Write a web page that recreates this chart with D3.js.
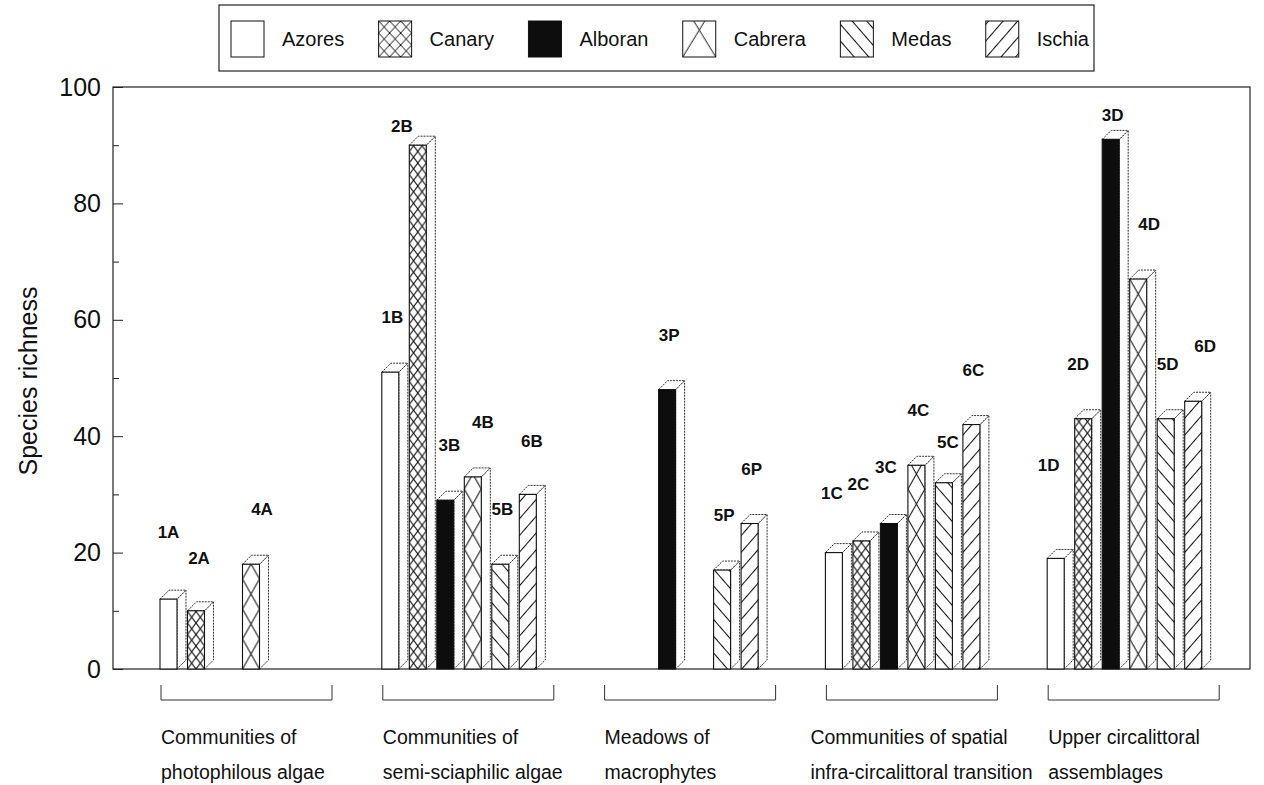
<!DOCTYPE html>
<html>
<head>
<meta charset="utf-8">
<script src="https://cdn.jsdelivr.net/npm/d3@7"></script>
<style>
  html, body { margin: 0; padding: 0; background: #fff; }
  svg { display: block; }
  text { font-family: "Liberation Sans", Arial, Helvetica, sans-serif; fill: #111; }
</style>
</head>
<body>
<svg id="chart" width="1264" height="785"></svg>
<script>
// ---- data ----
const islands = ["Azores", "Canary", "Alboran", "Cabrera", "Medas", "Ischia"];
const islandCodes = ["1", "2", "3", "4", "5", "6"];
const habitatCodes = ["A", "B", "P", "C", "D"];
const habitatLines = [
  ["Communities of", "photophilous algae"],
  ["Communities of", "semi-sciaphilic algae"],
  ["Meadows of", "macrophytes"],
  ["Communities of spatial", "infra-circalittoral transition"],
  ["Upper circalittoral", "assemblages"]
];
// species richness per island, one entry per habitat (null = not sampled)
const azores  = [12, 51, null, 20, 19];
const canary  = [10, 90, null, 22, 43];
const alboran = [null, 29, 48, 25, 91];
const cabrera = [18, 33, null, 35, 67];
const medas   = [null, 18, 17, 32, 43];
const ischia  = [null, 30, 25, 42, 46];
const yMajorTicks = [0, 20, 40, 60, 80, 100];
const yMinorTicks = [10, 30, 50, 70, 90];
const yTitle = "Species richness";

const seriesValues = [azores, canary, alboran, cabrera, medas, ischia];

// ---- layout ----
const svg = d3.select("#chart");
const FONT = '"Liberation Sans", Arial, Helvetica, sans-serif';
const frame = { left: 113, right: 1250, top: 87, bottom: 669 };
const depth = 9;

const y = d3.scaleLinear().domain([0, 100]).range([frame.bottom, frame.top]);

const groupStep = 221.8, bracketW = 171;
const gx = d3.scaleBand()
  .domain(habitatCodes)
  .range([161, 161 + groupStep * (5 - (groupStep - bracketW) / groupStep)])
  .paddingInner((groupStep - bracketW) / groupStep)
  .paddingOuter(0);

const bx = d3.scaleBand()
  .domain(islands)
  .range([0, 154.5])
  .paddingInner(0.382)
  .paddingOuter(0);
const bw = bx.bandwidth();

const defs = svg.append("defs");

// hatch patterns; each bar gets its own so the hatching lines up with its edges
function makePattern(id, island, x0, y0, w) {
  if (island === "Canary") {
    const p = defs.append("pattern").attr("id", id).attr("patternUnits", "userSpaceOnUse")
      .attr("x", x0).attr("y", y0).attr("width", w / 2).attr("height", 11.5);
    p.append("rect").attr("width", w / 2).attr("height", 11.5).attr("fill", "#fff");
    p.append("path").attr("d", `M0,0L${w / 2},11.5M${w / 2},0L0,11.5`)
      .attr("stroke", "#111").attr("stroke-width", 1.1).attr("fill", "none");
  } else if (island === "Cabrera") {
    const h = 30;
    const p = defs.append("pattern").attr("id", id).attr("patternUnits", "userSpaceOnUse")
      .attr("x", x0).attr("y", y0).attr("width", w).attr("height", h);
    p.append("rect").attr("width", w).attr("height", h).attr("fill", "#fff");
    p.append("path").attr("d", `M0,0L${w},${h}M${w},0L0,${h}`)
      .attr("stroke", "#111").attr("stroke-width", 1.1).attr("fill", "none");
  } else if (island === "Medas" || island === "Ischia") {
    const gap = 11;
    const ang = island === "Medas" ? 49 : -49;
    const p = defs.append("pattern").attr("id", id).attr("patternUnits", "userSpaceOnUse")
      .attr("width", 20).attr("height", gap)
      .attr("patternTransform", `translate(${x0},${y0}) rotate(${ang})`);
    p.append("rect").attr("width", 20).attr("height", gap).attr("fill", "#fff");
    p.append("line").attr("x1", 0).attr("x2", 20).attr("y1", 0.5).attr("y2", 0.5)
      .attr("stroke", "#111").attr("stroke-width", 1.1);
  }
}

function frontFill(island, id) {
  if (island === "Azores") return "#fff";
  if (island === "Alboran") return "#0d0d0d";
  return `url(#${id})`;
}

// ---- plot frame ----
svg.append("rect")
  .attr("x", frame.left).attr("y", frame.top)
  .attr("width", frame.right - frame.left).attr("height", frame.bottom - frame.top)
  .attr("fill", "none").attr("stroke", "#222").attr("stroke-width", 1.2);

// ---- y axis ----
const yAxis = svg.append("g").attr("transform", `translate(${frame.left},0)`)
  .call(d3.axisLeft(y).tickValues(yMajorTicks).tickSize(-10).tickPadding(12).tickFormat(d3.format("d")));
yAxis.select(".domain").remove();
yAxis.selectAll("line").attr("stroke", "#222");
yAxis.selectAll("text").style("font-family", FONT).style("font-size", "25px").attr("fill", "#111");

const yMinor = svg.append("g").attr("transform", `translate(${frame.left},0)`)
  .call(d3.axisLeft(y).tickValues(yMinorTicks).tickSize(-6).tickFormat(""));
yMinor.select(".domain").remove();
yMinor.selectAll("line").attr("stroke", "#222");

svg.append("text")
  .attr("transform", `translate(37,381) rotate(-90)`)
  .attr("text-anchor", "middle")
  .style("font-size", "25px")
  .text(yTitle);

// ---- bars ----
const bars = [];
habitatCodes.forEach((h, gi) => {
  islands.forEach((isl, si) => {
    const v = seriesValues[si][gi];
    if (v == null) return;
    bars.push({ habitat: h, island: isl, code: islandCodes[si] + h, value: v,
                x: gx(h) - 1 + bx(isl) });
  });
});

const barG = svg.append("g");
bars.forEach((b, i) => {
  const x0 = b.x, x1 = b.x + bw, yt = y(b.value), yb = y(0), d = depth;
  const id = "hatch" + i;
  makePattern(id, b.island, x0, yb, bw);
  const g = barG.append("g");
  // side face
  g.append("path")
    .attr("d", `M${x1},${yb}L${x1 + d},${yb - d}L${x1 + d},${yt - d}L${x1},${yt}Z`)
    .attr("fill", "#fff").attr("stroke", "#333").attr("stroke-width", 1)
    .attr("stroke-dasharray", "2,1");
  // top face
  g.append("path")
    .attr("d", `M${x0},${yt}L${x0 + d},${yt - d}L${x1 + d},${yt - d}L${x1},${yt}Z`)
    .attr("fill", "#fff").attr("stroke", "#333").attr("stroke-width", 1)
    .attr("stroke-dasharray", "2,1");
  // front face
  g.append("rect")
    .attr("x", x0).attr("y", yt).attr("width", bw).attr("height", yb - yt)
    .attr("fill", frontFill(b.island, id))
    .attr("stroke", "#111").attr("stroke-width", 1.1);
});

// bar codes, set above each bar; a few are nudged so they clear their neighbours
const labelNudge = {
  "1A": [-2, -12], "2A": [1, 2], "4A": [9, 0],
  "2B": [-18, 36], "3B": [2, 0], "4B": [8, 0], "6B": [2, 2],
  "5C": [2, 14], "1C": [-4, -5], "2C": [-5, -2], "3C": [-5, -2],
  "1D": [-9, -38], "2D": [-7, 0], "3D": [0, 31], "4D": [9, 0], "6D": [10, 0]
};
svg.append("g").selectAll("text").data(bars).join("text")
  .attr("x", b => b.x + bw / 2 + 2 + (labelNudge[b.code] || [0, 0])[0])
  .attr("y", b => y(b.value) - 49 + (labelNudge[b.code] || [0, 0])[1])
  .attr("text-anchor", "middle")
  .style("font-size", "17px").style("font-weight", "bold")
  .text(b => b.code);

// ---- group brackets and habitat names ----
const catG = svg.append("g");
habitatCodes.forEach((h, gi) => {
  const x0 = gx(h), x1 = x0 + gx.bandwidth();
  catG.append("path")
    .attr("d", `M${x0},685V700H${x1}V685`)
    .attr("fill", "none").attr("stroke", "#333").attr("stroke-width", 1);
  const dx = gi === 3 ? -16 : 0;
  const t = catG.append("text").attr("x", x0 + dx).attr("y", 744)
    .style("font-size", "19.5px");
  habitatLines[gi].forEach((line, li) => {
    t.append("tspan").attr("x", x0 + dx).attr("y", 744 + li * 35).text(line);
  });
});

// ---- legend ----
const legendBox = { x: 219, y: 5, w: 875, h: 66 };
svg.append("rect")
  .attr("x", legendBox.x).attr("y", legendBox.y)
  .attr("width", legendBox.w).attr("height", legendBox.h)
  .attr("fill", "#fff").attr("stroke", "#222").attr("stroke-width", 1.2);

const legG = svg.append("g");
const swW = 33, swH = 36, swGap = 18;
const legTexts = islands.map(isl => legG.append("text")
  .attr("y", 46).style("font-size", "20px").text(isl));
const widths = legTexts.map(t => t.node().getComputedTextLength());
const startX = 231, endX = 1089;
const used = d3.sum(widths) + islands.length * (swW + swGap);
const itemGap = (endX - startX - used) / (islands.length - 1);
let cx = startX;
islands.forEach((isl, i) => {
  const id = "legend" + i;
  if (isl === "Canary") {
    const p = defs.append("pattern").attr("id", id).attr("patternUnits", "userSpaceOnUse")
      .attr("x", cx).attr("y", 21).attr("width", 11).attr("height", 12);
    p.append("rect").attr("width", 11).attr("height", 12).attr("fill", "#fff");
    p.append("path").attr("d", "M0,0L11,12M11,0L0,12").attr("stroke", "#111").attr("fill", "none");
  } else if (isl === "Cabrera") {
    const p = defs.append("pattern").attr("id", id).attr("patternUnits", "userSpaceOnUse")
      .attr("x", cx).attr("y", 21 - 18).attr("width", swW).attr("height", 54);
    p.append("rect").attr("width", swW).attr("height", 54).attr("fill", "#fff");
    p.append("path").attr("d", `M0,0L${swW},54M${swW},0L0,54`).attr("stroke", "#111").attr("fill", "none");
  } else {
    makePattern(id, isl, cx, 57, swW);
  }
  legG.append("rect")
    .attr("x", cx).attr("y", 21).attr("width", swW).attr("height", swH)
    .attr("fill", frontFill(isl, id)).attr("stroke", "#111").attr("stroke-width", 1);
  legTexts[i].attr("x", cx + swW + swGap);
  cx += swW + swGap + widths[i] + itemGap;
});
</script>
</body>
</html>
